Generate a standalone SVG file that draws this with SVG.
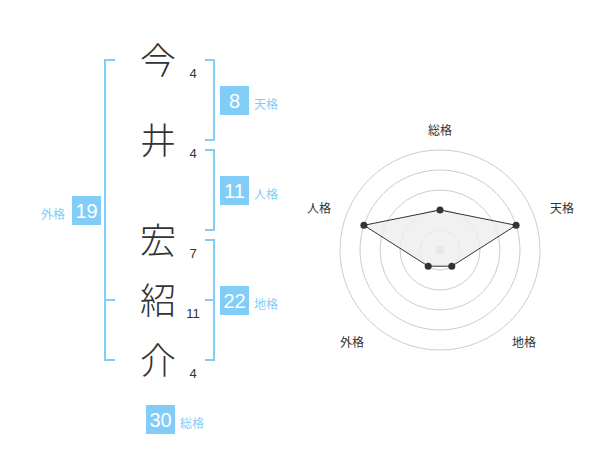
<svg xmlns="http://www.w3.org/2000/svg" width="600" height="470" viewBox="0 0 600 470">
<style>
.kanji{font-family:"Noto Sans CJK JP","Noto Sans CJK SC",sans-serif;font-size:36px;font-weight:300;fill:#333;text-anchor:middle}
.strokes{font-family:"Liberation Sans",Arial,sans-serif;font-size:13px;fill:#333;text-anchor:middle}
.br{fill:none;stroke:#82cdf8;stroke-width:2}
.box{fill:#82cdf8}
.boxnum{font-family:"Liberation Sans",Arial,sans-serif;font-size:20px;fill:#fff;text-anchor:middle}
.lbl{font-family:"Noto Sans CJK JP","Noto Sans CJK SC",sans-serif;font-size:12px;fill:#82cdf8}
.ring{fill:none;stroke:#cccccc;stroke-width:1}
.axis{font-family:"Noto Sans CJK JP","Noto Sans CJK SC",sans-serif;font-size:12px;fill:#333;text-anchor:middle}
.pt{fill:#333}
</style>
<g id="name">
<g id="char1"><text class="kanji" x="158" y="73.5">今</text><text class="strokes" x="193" y="78">4</text></g>
<g id="char2"><text class="kanji" x="158" y="153.5">井</text><text class="strokes" x="193" y="158">4</text></g>
<g id="char3"><text class="kanji" x="158" y="253.5">宏</text><text class="strokes" x="193" y="258">7</text></g>
<g id="char4"><text class="kanji" x="158" y="313.5">紹</text><text class="strokes" x="193" y="318">11</text></g>
<g id="char5"><text class="kanji" x="158" y="373.5">介</text><text class="strokes" x="193" y="378">4</text></g>
</g>
<g id="connectors">
<path class="br" d="M115,60 H105 V360 H115 M105,300 H115"/>
<path class="br" d="M205,60 H214 V140 H205"/>
<path class="br" d="M205,150 H214 V230 H205"/>
<path class="br" d="M205,240 H214 V360 H205 M205,300 H214"/>
</g>
<g id="tenkaku"><rect class="box" x="220" y="86" width="29" height="29"/><text class="boxnum" x="234.5" y="107.5">8</text><text class="lbl" x="254" y="108.5">天格</text></g>
<g id="jinkaku"><rect class="box" x="220" y="176" width="29" height="29"/><text class="boxnum" x="234.5" y="197.5">11</text><text class="lbl" x="254" y="198.5">人格</text></g>
<g id="chikaku"><rect class="box" x="220" y="286" width="29" height="29"/><text class="boxnum" x="234.5" y="307.5">22</text><text class="lbl" x="254" y="308.5">地格</text></g>
<g id="gaikaku"><rect class="box" x="72" y="196" width="29" height="29"/><text class="boxnum" x="86.5" y="217.5">19</text><text class="lbl" x="65" y="218.5" text-anchor="end">外格</text></g>
<g id="soukaku"><rect class="box" x="146" y="405" width="29" height="29"/><text class="boxnum" x="160.5" y="426.5">30</text><text class="lbl" x="180" y="427.5">総格</text></g>
<g id="radar">
<circle class="ring" cx="440" cy="250" r="20"/>
<circle class="ring" cx="440" cy="250" r="40"/>
<circle class="ring" cx="440" cy="250" r="60"/>
<circle class="ring" cx="440" cy="250" r="80"/>
<circle class="ring" cx="440" cy="250" r="100"/>
<circle cx="440" cy="250" r="4" fill="#cccccc"/>
<polygon points="440,210 516.1,225.3 451.8,266.2 428.2,266.2 363.9,225.3" fill="#eeeeee" fill-opacity="0.8" stroke="#333" stroke-width="1"/>
<circle class="pt" cx="440" cy="210" r="3.5"/>
<circle class="pt" cx="516.1" cy="225.3" r="3.5"/>
<circle class="pt" cx="451.8" cy="266.2" r="3.5"/>
<circle class="pt" cx="428.2" cy="266.2" r="3.5"/>
<circle class="pt" cx="363.9" cy="225.3" r="3.5"/>
<text class="axis" x="440" y="135">総格</text>
<text class="axis" x="562" y="212.5">天格</text>
<text class="axis" x="319" y="212.5">人格</text>
<text class="axis" x="352" y="346.5">外格</text>
<text class="axis" x="524" y="346.5">地格</text>
</g>
</svg>
